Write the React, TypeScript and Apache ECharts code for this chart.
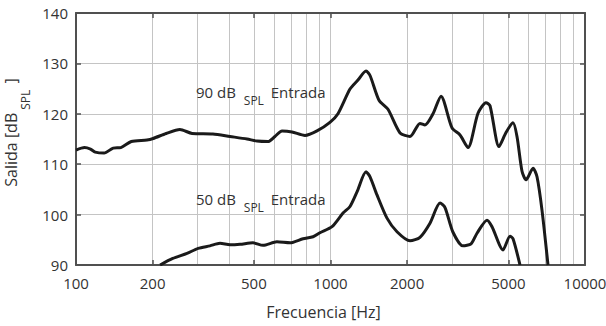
import React, { useEffect, useRef } from "react";
import * as echarts from "echarts";

// Frequency (Hz) and output level (dB SPL) for the 90 dB SPL input curve
const upperFreq = [100, 108, 114, 119, 129, 140, 150, 165, 190, 201, 226, 256, 286, 345, 403, 470, 514, 568, 605, 645, 706, 794, 885, 995, 1070, 1193, 1282, 1379, 1430, 1551, 1682, 1876, 2053, 2247, 2351, 2528, 2718, 3002, 3228, 3470, 3798, 4083, 4234, 4593, 4894, 5214, 5405, 5656, 5866, 6249, 6478, 6776, 7155];
const upperLevel = [112.8, 113.3, 113.0, 112.4, 112.2, 113.2, 113.3, 114.5, 114.8, 115.1, 116.1, 116.9, 116.1, 116.0, 115.5, 115.0, 114.6, 114.5, 115.5, 116.6, 116.4, 115.7, 116.6, 118.3, 120.0, 124.9, 126.7, 128.5, 127.6, 122.7, 120.9, 116.2, 115.5, 118.1, 117.8, 120.0, 123.5, 117.2, 115.8, 113.3, 120.1, 122.2, 121.6, 113.5, 116.3, 118.2, 115.5, 108.6, 106.9, 109.2, 107.5, 100.9, 90.0];

// Frequency (Hz) and output level (dB SPL) for the 50 dB SPL input curve
const lowerFreq = [214, 240, 273, 302, 336, 368, 403, 441, 496, 543, 616, 694, 780, 854, 909, 1014, 1120, 1193, 1271, 1379, 1430, 1523, 1667, 1825, 2053, 2247, 2460, 2694, 2818, 3029, 3316, 3566, 3764, 4120, 4312, 4763, 5074, 5214, 5554];
const lowerLevel = [90.0, 91.3, 92.3, 93.3, 93.8, 94.3, 94.0, 94.1, 94.4, 93.9, 94.6, 94.4, 95.2, 95.6, 96.4, 97.6, 100.3, 101.6, 104.5, 108.5, 107.5, 103.9, 99.3, 96.6, 94.8, 95.5, 98.3, 102.3, 101.4, 96.5, 93.8, 94.2, 96.3, 98.9, 97.6, 93.0, 95.7, 95.2, 90.0];

// Axis ticks
const xTickLabels = [100, 200, 500, 1000, 2000, 5000, 10000];
const xGridFreqs = [200, 300, 400, 500, 600, 700, 800, 900, 1000, 2000, 3000, 4000, 5000, 6000, 7000, 8000, 9000];
const yMin = 90;
const yMax = 140;
const yStep = 10;

const FONT = "'Open Sans', 'Noto Sans', sans-serif";
const TEXT = "#333333";
const AXIS = "#505050";
const GRID = "#c4c4c4";
const LINE = "#1a1a1a";

export default function App() {
  const ref = useRef<HTMLDivElement>(null);

  useEffect(() => {
    if (!ref.current) return;
    const chart = echarts.init(ref.current, null, { renderer: "svg" });
    const lg = (f: number) => Math.log10(f);
    const tickVals = xTickLabels.map(lg);
    const gridVals = xGridFreqs.map(lg);

    const annotationStyle = (label: string) => ({
      text: `{m|${label} dB }{s|SPL}{m| Entrada}`,
      verticalAlign: "middle",
      align: "left",
      fill: TEXT,
      font: `15px ${FONT}`,
      rich: {
        m: { fontSize: 15, fill: TEXT, fontFamily: FONT, verticalAlign: "middle" },
        s: { fontSize: 12, fill: TEXT, fontFamily: FONT, verticalAlign: "middle", padding: [17, 3, 0, 4] },
      },
    });

    const option: any = {
      animation: false,
      backgroundColor: "#ffffff",
      textStyle: { fontFamily: FONT },
      grid: { left: 76, right: 21, top: 13, bottom: 61, containLabel: false, outerBoundsMode: "none" },
      xAxis: [
        {
          type: "value",
          min: 2,
          max: 4,
          position: "bottom",
          axisLine: { show: true, lineStyle: { color: AXIS, width: 2 } },
          axisTick: { show: true, inside: true, length: 5, customValues: tickVals, lineStyle: { color: AXIS, width: 1.5 } },
          axisLabel: {
            show: true,
            customValues: tickVals,
            margin: 10,
            fontSize: 15,
            color: TEXT,
            fontFamily: FONT,
            formatter: (v: number) => String(Math.round(Math.pow(10, v))),
          },
          splitLine: { show: false },
          name: "Frecuencia [Hz]",
          nameLocation: "middle",
          nameGap: 39,
          nameTextStyle: { fontSize: 16, color: TEXT, fontFamily: FONT, padding: [0, 14, 0, 0] },
        },
        {
          type: "value",
          min: 2,
          max: 4,
          position: "top",
          axisLine: { show: true, lineStyle: { color: AXIS, width: 2 } },
          axisTick: { show: true, inside: true, length: 5, customValues: tickVals, lineStyle: { color: AXIS, width: 1.5 } },
          axisLabel: { show: false },
          splitLine: { show: false },
        },
        {
          type: "value",
          min: 2,
          max: 4,
          position: "bottom",
          axisLine: { show: false },
          axisTick: { show: false, customValues: gridVals },
          axisLabel: { show: false },
          splitLine: { show: true, lineStyle: { color: GRID, width: 1 } },
          z: 0,
        },
      ],
      yAxis: [
        {
          type: "value",
          min: yMin,
          max: yMax,
          interval: yStep,
          position: "left",
          axisLine: { show: true, lineStyle: { color: AXIS, width: 2 } },
          axisTick: { show: true, inside: true, length: 5, lineStyle: { color: AXIS, width: 1.5 } },
          axisLabel: { show: true, margin: 8, fontSize: 15, color: TEXT, fontFamily: FONT },
          splitLine: { show: true, lineStyle: { color: GRID, width: 1 } },
          name: "{m1|Salida [dB}{s|SPL}{m2| ]}",
          nameLocation: "middle",
          nameGap: 42,
          nameTextStyle: {
            fontSize: 16,
            color: TEXT,
            fontFamily: FONT,
            rich: {
              m1: { fontSize: 16, color: TEXT, fontFamily: FONT, verticalAlign: "middle", padding: [0, 0, 0, 13] },
              m2: { fontSize: 16, color: TEXT, fontFamily: FONT, verticalAlign: "middle" },
              s: { fontSize: 12, color: TEXT, fontFamily: FONT, verticalAlign: "middle", padding: [28, 2, 0, 3] },
            },
          },
        },
        {
          type: "value",
          min: yMin,
          max: yMax,
          interval: yStep,
          position: "right",
          axisLine: { show: true, lineStyle: { color: AXIS, width: 2 } },
          axisTick: { show: true, inside: true, length: 5, lineStyle: { color: AXIS, width: 1.5 } },
          axisLabel: { show: false },
          splitLine: { show: false },
        },
      ],
      series: [
        {
          type: "line",
          name: "90 dB SPL Entrada",
          xAxisIndex: 0,
          yAxisIndex: 0,
          data: upperFreq.map((f, i) => [lg(f), upperLevel[i]]),
          showSymbol: false,
          symbol: "none",
          smooth: 0.25,
          lineStyle: { color: LINE, width: 3 },
          z: 5,
        },
        {
          type: "line",
          name: "50 dB SPL Entrada",
          xAxisIndex: 0,
          yAxisIndex: 0,
          data: lowerFreq.map((f, i) => [lg(f), lowerLevel[i]]),
          showSymbol: false,
          symbol: "none",
          smooth: 0.25,
          lineStyle: { color: LINE, width: 3 },
          z: 5,
        },
      ],
      graphic: [
        { type: "text", x: 196, y: 92, z: 10, style: annotationStyle("90") },
        { type: "text", x: 196, y: 199, z: 10, style: annotationStyle("50") },
      ],
    };

    chart.setOption(option);
    return () => {
      chart.dispose();
    };
  }, []);

  return (
    <div
      ref={ref}
      style={{ position: "fixed", left: 0, top: 0, width: 606, height: 326, background: "#ffffff" }}
    />
  );
}
